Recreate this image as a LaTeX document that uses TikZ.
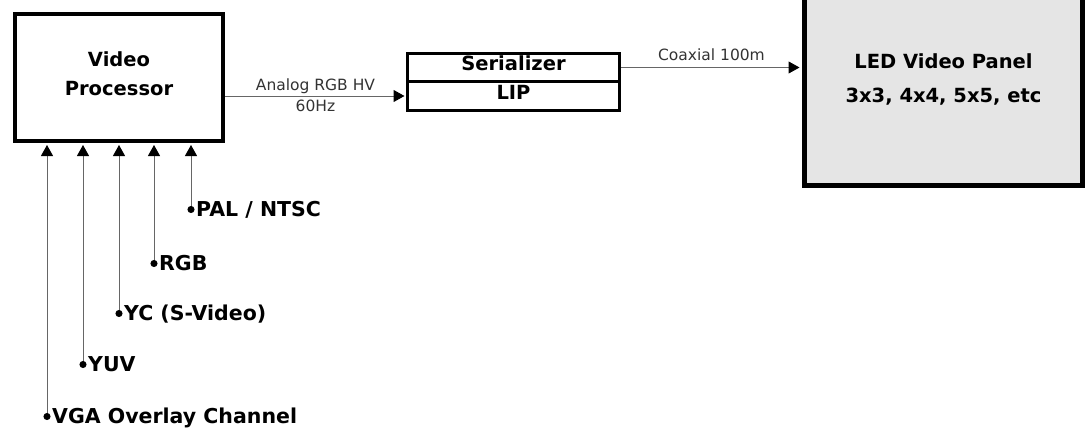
\documentclass[tikz,border=0pt]{standalone}
\usepackage{fontspec}
\setmainfont{DejaVu Sans}
\usetikzlibrary{arrows.meta, positioning}

\begin{document}
\begin{tikzpicture}[
			x=1pt, y=-1pt,
			every node/.style={
					inner sep=0pt,
					text height=1.5ex, % Height above the baseline
					text depth=0.25ex  % Depth below the baseline
				},
			unit/.style={
					draw,
					font=\bfseries\fontsize{19.5}{29}\selectfont,
					align=center
				},
			caption/.style={
					align=center,
					text height=,
					text depth=
				},
			source/.style={
					anchor=west,
					font=\bfseries\fontsize{20.5}{24}\selectfont
				},
			wire/.style={
					draw=black!60,
					line width=1pt
				},
			tip/.style={
					-{Triangle[length=11pt, width=12pt, color=black]}
				},
			feed/.style={
					{Circle[length=7pt, color=black]}-{Triangle[length=11pt, width=12pt, color=black]},
					shorten >=2pt
				},
			note/.style={
					font=\fontsize{15.5}{18}\selectfont,
					text=black!80
				}
		]
		\useasboundingbox (0, 0) rectangle (1089, 439);

		% processor and serializer
		\node[draw, line width=4pt, minimum width=208pt, minimum height=127pt] (vp) at (119, 77.5) {};
		\node[caption, font=\bfseries\fontsize{19.5}{29}\selectfont] (vptxt) at (119, 73.5) {Video\\Processor};
		\node[unit, line width=3pt, minimum width=212pt, minimum height=28pt] (ser) at (513.5, 67.5) {Serializer};
		\node[unit, line width=3pt, minimum width=212pt, minimum height=29pt] (lip) at (513.5, 96) {LIP};

		% panel, its top runs off the page
		\node[draw, line width=5pt, fill=black!10, minimum width=278pt, minimum height=205pt] (led) at (943.5, 83) {};
		\node[caption, font=\bfseries\fontsize{19.5}{34}\selectfont] (ledtxt) at (943.5, 79) {LED Video Panel\\3x3, 4x4, 5x5, etc};

		% video sources
		\coordinate (dpal) at (191, 213);
		\coordinate (drgb) at (154, 267);
		\coordinate (dyc)  at (119, 317);
		\coordinate (dyuv) at (83, 368);
		\coordinate (dvga) at (47, 420);

		\node[source, right=5pt of dpal] (pal) {PAL / NTSC};
		\node[source, right=5pt of drgb] (rgb) {RGB};
		\node[source, right=5pt of dyc]  (yc)  {YC (S-Video)};
		\node[source, right=5pt of dyuv] (yuv) {YUV};
		\node[source, right=5pt of dvga] (vga) {VGA Overlay Channel};

		\foreach \d in {dpal, drgb, dyc, dyuv, dvga}
			\draw[wire, feed] (\d) -- (vp.south -| \d);

		% links
		\draw[wire, tip, shorten >=1.5pt] (vp.east |- lip.west) -- (lip.west)
			node[note, midway, above=4pt] (hv) {Analog RGB HV}
			node[note, midway, below=7pt] (hz) {60Hz};
		\draw[wire, tip, shorten >=2.5pt] (ser.east) -- (led.west |- ser.east)
			node[note, midway, above=5pt] (coax) {Coaxial 100m};
	\end{tikzpicture}
\end{document}
